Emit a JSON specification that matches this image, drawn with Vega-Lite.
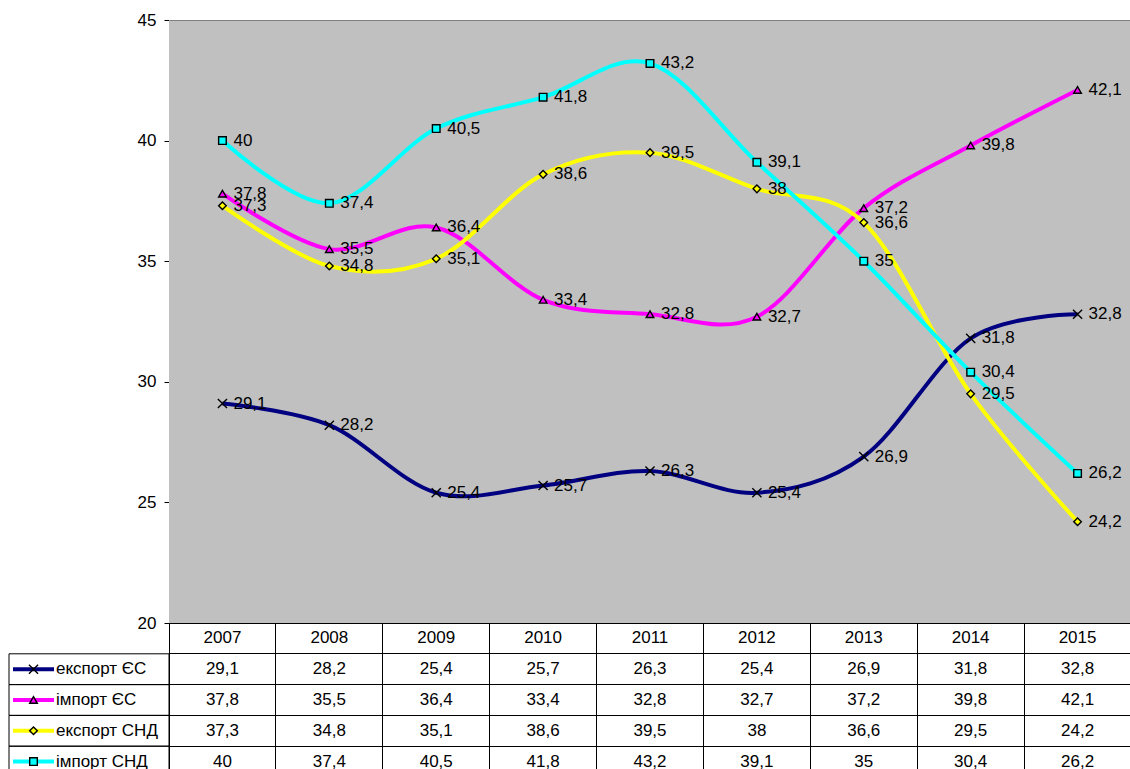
{
  "$schema": "https://vega.github.io/schema/vega-lite/v6.json",
  "padding": {"left": 8, "top": 11, "right": 0, "bottom": 0},
  "columns": 2,
  "spacing": 0,
  "bounds": "flush",
  "align": "each",
  "config": {
    "locale": {"number": {"decimal": ",", "thousands": " ", "grouping": [3], "currency": ["", ""]}},
    "font": "Liberation Sans",
    "view": {"stroke": null}
  },
  "datasets": {
    "t": [
      {"year": "2007", "series": "експорт ЄС", "value": 29.1},
      {"year": "2008", "series": "експорт ЄС", "value": 28.2},
      {"year": "2009", "series": "експорт ЄС", "value": 25.4},
      {"year": "2010", "series": "експорт ЄС", "value": 25.7},
      {"year": "2011", "series": "експорт ЄС", "value": 26.3},
      {"year": "2012", "series": "експорт ЄС", "value": 25.4},
      {"year": "2013", "series": "експорт ЄС", "value": 26.9},
      {"year": "2014", "series": "експорт ЄС", "value": 31.8},
      {"year": "2015", "series": "експорт ЄС", "value": 32.8},
      {"year": "2007", "series": "імпорт ЄС", "value": 37.8},
      {"year": "2008", "series": "імпорт ЄС", "value": 35.5},
      {"year": "2009", "series": "імпорт ЄС", "value": 36.4},
      {"year": "2010", "series": "імпорт ЄС", "value": 33.4},
      {"year": "2011", "series": "імпорт ЄС", "value": 32.8},
      {"year": "2012", "series": "імпорт ЄС", "value": 32.7},
      {"year": "2013", "series": "імпорт ЄС", "value": 37.2},
      {"year": "2014", "series": "імпорт ЄС", "value": 39.8},
      {"year": "2015", "series": "імпорт ЄС", "value": 42.1},
      {"year": "2007", "series": "експорт СНД", "value": 37.3},
      {"year": "2008", "series": "експорт СНД", "value": 34.8},
      {"year": "2009", "series": "експорт СНД", "value": 35.1},
      {"year": "2010", "series": "експорт СНД", "value": 38.6},
      {"year": "2011", "series": "експорт СНД", "value": 39.5},
      {"year": "2012", "series": "експорт СНД", "value": 38},
      {"year": "2013", "series": "експорт СНД", "value": 36.6},
      {"year": "2014", "series": "експорт СНД", "value": 29.5},
      {"year": "2015", "series": "експорт СНД", "value": 24.2},
      {"year": "2007", "series": "імпорт СНД", "value": 40},
      {"year": "2008", "series": "імпорт СНД", "value": 37.4},
      {"year": "2009", "series": "імпорт СНД", "value": 40.5},
      {"year": "2010", "series": "імпорт СНД", "value": 41.8},
      {"year": "2011", "series": "імпорт СНД", "value": 43.2},
      {"year": "2012", "series": "імпорт СНД", "value": 39.1},
      {"year": "2013", "series": "імпорт СНД", "value": 35},
      {"year": "2014", "series": "імпорт СНД", "value": 30.4},
      {"year": "2015", "series": "імпорт СНД", "value": 26.2}
    ]
  },
  "concat": [
    {
      "width": 160,
      "height": 603,
      "data": {"name": "t"},
      "mark": {"type": "point", "opacity": 0},
      "encoding": {
        "y": {
          "field": "value", "type": "quantitative",
          "scale": {"domain": [20, 45], "nice": false, "zero": false},
          "axis": {"values": [20, 25, 30, 35, 40, 45], "offset": -160, "grid": false, "title": null, "domainColor": "#000000", "tickColor": "#000000", "tickSize": 5, "labelPadding": 8, "labelFontSize": 17, "labelColor": "#000000"}
        }
      }
    },
    {
      "width": 962,
      "height": 603,
      "data": {"name": "t"},
      "view": {"fill": "#C0C0C0", "stroke": null},
      "encoding": {
        "x": {"field": "year", "type": "ordinal", "scale": {"type": "point", "padding": 0.5}, "axis": {"orient": "top", "labels": false, "ticks": false, "title": null, "domainColor": "#808080", "domainWidth": 1}},
        "y": {"field": "value", "type": "quantitative", "scale": {"domain": [20, 45], "nice": false, "zero": false}, "axis": null}
      },
      "layer": [
        {
          "mark": {"type": "line", "interpolate": "cardinal", "strokeWidth": 4},
          "encoding": {
            "color": {"field": "series", "type": "nominal", "scale": {"domain": ["експорт ЄС", "імпорт ЄС", "експорт СНД", "імпорт СНД"], "range": ["#000080", "#FF00FF", "#FFFF00", "#00FFFF"]}, "legend": null}
          }
        },
        {
          "mark": {"type": "point", "filled": true, "stroke": "#000000", "strokeWidth": 1.4, "size": 58, "opacity": 1},
          "encoding": {
            "shape": {"field": "series", "type": "nominal", "scale": {"domain": ["експорт ЄС", "імпорт ЄС", "експорт СНД", "імпорт СНД"], "range": ["M-1.2,-1.2L1.2,1.2M-1.2,1.2L1.2,-1.2", "triangle-up", "diamond", "square"]}, "legend": null},
            "fill": {"field": "series", "type": "nominal", "scale": {"domain": ["експорт ЄС", "імпорт ЄС", "експорт СНД", "імпорт СНД"], "range": ["#000080", "#FF00FF", "#FFFF00", "#00FFFF"]}, "legend": null}
          }
        },
        {
          "mark": {"type": "text", "align": "left", "baseline": "middle", "dx": 11, "fontSize": 17, "color": "#000000"},
          "encoding": {"text": {"field": "value", "type": "quantitative", "format": "~g"}}
        }
      ]
    },
    {
      "width": 160,
      "height": 154,
      "data": {"name": "t"},
      "transform": [{"filter": "datum.year == '2007'"}],
      "encoding": {
        "y": {"field": "series", "type": "nominal", "scale": {"type": "band", "domain": ["hdr", "експорт ЄС", "імпорт ЄС", "експорт СНД", "імпорт СНД"], "paddingInner": 0, "paddingOuter": 0}, "axis": null}
      },
      "layer": [
        {
          "mark": {"type": "rect", "fill": "transparent", "stroke": "#000000", "strokeWidth": 1},
          "encoding": {
            "x": {"datum": 0, "type": "quantitative", "scale": {"domain": [0, 160]}, "axis": null},
            "x2": {"datum": 160}
          }
        },
        {
          "mark": {"type": "rule", "strokeWidth": 4},
          "encoding": {
            "x": {"datum": 4, "type": "quantitative"},
            "x2": {"datum": 45},
            "color": {"field": "series", "type": "nominal", "scale": {"domain": ["експорт ЄС", "імпорт ЄС", "експорт СНД", "імпорт СНД"], "range": ["#000080", "#FF00FF", "#FFFF00", "#00FFFF"]}, "legend": null}
          }
        },
        {
          "mark": {"type": "point", "filled": true, "stroke": "#000000", "strokeWidth": 1.4, "size": 58, "opacity": 1},
          "encoding": {
            "x": {"datum": 24.5, "type": "quantitative"},
            "shape": {"field": "series", "type": "nominal", "scale": {"domain": ["експорт ЄС", "імпорт ЄС", "експорт СНД", "імпорт СНД"], "range": ["M-1.2,-1.2L1.2,1.2M-1.2,1.2L1.2,-1.2", "triangle-up", "diamond", "square"]}, "legend": null},
            "fill": {"field": "series", "type": "nominal", "scale": {"domain": ["експорт ЄС", "імпорт ЄС", "експорт СНД", "імпорт СНД"], "range": ["#000080", "#FF00FF", "#FFFF00", "#00FFFF"]}, "legend": null}
          }
        },
        {
          "mark": {"type": "text", "align": "left", "baseline": "middle", "fontSize": 17, "color": "#000000"},
          "encoding": {
            "x": {"datum": 47, "type": "quantitative"},
            "text": {"field": "series"}
          }
        }
      ]
    },
    {
      "width": 962,
      "height": 154,
      "data": {"name": "t"},
      "encoding": {
        "x": {"field": "year", "type": "ordinal", "scale": {"type": "band", "paddingInner": 0, "paddingOuter": 0}, "axis": {"grid": true, "bandPosition": 0, "labels": false, "ticks": false, "domain": false, "title": null, "gridColor": "#000000", "gridOpacity": 1, "gridWidth": 1}}
      },
      "layer": [
        {
          "mark": {"type": "text", "align": "center", "baseline": "middle", "fontSize": 17, "color": "#000000"},
          "encoding": {
            "y": {"field": "series", "type": "nominal", "scale": {"type": "band", "domain": ["hdr", "експорт ЄС", "імпорт ЄС", "експорт СНД", "імпорт СНД"], "paddingInner": 0, "paddingOuter": 0}, "axis": {"grid": true, "bandPosition": 0, "labels": false, "ticks": false, "domain": false, "title": null, "gridColor": "#000000", "gridOpacity": 1, "gridWidth": 1}},
            "text": {"field": "value", "type": "quantitative", "format": "~g"}
          }
        },
        {
          "transform": [{"filter": "datum.series == 'експорт ЄС'"}],
          "mark": {"type": "text", "align": "center", "baseline": "middle", "fontSize": 17, "color": "#000000"},
          "encoding": {
            "y": {"datum": "hdr", "type": "nominal"},
            "text": {"field": "year"}
          }
        }
      ]
    }
  ]
}
